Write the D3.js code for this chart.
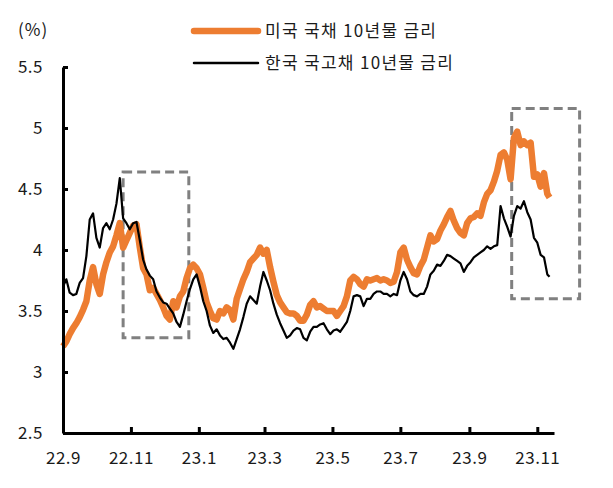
<!DOCTYPE html>
<html>
<head>
<meta charset="utf-8">
<script src="https://cdn.jsdelivr.net/npm/d3@7"></script>
<style>
  body { margin: 0; background: #fff; }
  svg { display: block; font-family: "Noto Sans CJK KR", "Noto Sans", sans-serif; }
</style>
</head>
<body>
<svg id="chart" width="613" height="488"></svg>
<script>
const dates = [
  '2022-09-01','2022-09-04','2022-09-07','2022-09-10','2022-09-13','2022-09-16','2022-09-19','2022-09-22','2022-09-25','2022-09-28',
  '2022-10-01','2022-10-04','2022-10-07','2022-10-10','2022-10-13','2022-10-16','2022-10-19','2022-10-22','2022-10-25','2022-10-28','2022-10-31',
  '2022-11-03','2022-11-06','2022-11-09','2022-11-12','2022-11-15','2022-11-18','2022-11-21','2022-11-24','2022-11-27','2022-11-30',
  '2022-12-03','2022-12-06','2022-12-09','2022-12-12','2022-12-15','2022-12-18','2022-12-21','2022-12-24','2022-12-27','2022-12-30',
  '2023-01-02','2023-01-05','2023-01-08','2023-01-11','2023-01-14','2023-01-17','2023-01-20','2023-01-23','2023-01-26','2023-01-29',
  '2023-02-01','2023-02-04','2023-02-07','2023-02-10','2023-02-13','2023-02-16','2023-02-19','2023-02-22','2023-02-25','2023-02-28',
  '2023-03-03','2023-03-06','2023-03-09','2023-03-12','2023-03-15','2023-03-18','2023-03-21','2023-03-24','2023-03-27','2023-03-30',
  '2023-04-02','2023-04-05','2023-04-08','2023-04-11','2023-04-14','2023-04-17','2023-04-20','2023-04-23','2023-04-26','2023-04-29',
  '2023-05-02','2023-05-05','2023-05-08','2023-05-11','2023-05-14','2023-05-17','2023-05-20','2023-05-23','2023-05-26','2023-05-29',
  '2023-06-01','2023-06-04','2023-06-07','2023-06-10','2023-06-13','2023-06-16','2023-06-19','2023-06-22','2023-06-25','2023-06-28',
  '2023-07-01','2023-07-04','2023-07-07','2023-07-10','2023-07-13','2023-07-16','2023-07-19','2023-07-22','2023-07-25','2023-07-28','2023-07-31',
  '2023-08-03','2023-08-06','2023-08-09','2023-08-12','2023-08-15','2023-08-18','2023-08-21','2023-08-24','2023-08-27','2023-08-30',
  '2023-09-02','2023-09-05','2023-09-08','2023-09-11','2023-09-14','2023-09-17','2023-09-20','2023-09-23','2023-09-26','2023-09-29',
  '2023-10-02','2023-10-05','2023-10-08','2023-10-11','2023-10-14','2023-10-17','2023-10-20','2023-10-23','2023-10-26','2023-10-29',
  '2023-11-01','2023-11-04','2023-11-07','2023-11-10','2023-11-12'
];

// 미국 국채 10년물 금리 (%)
const usYield = [
  3.21,3.25,3.31,3.36,3.40,3.45,3.51,3.58,3.75,3.86,
  3.72,3.64,3.80,3.90,3.98,4.03,4.12,4.22,4.02,4.08,4.14,
  4.20,4.21,4.02,3.85,3.80,3.67,3.69,3.64,3.59,3.53,
  3.46,3.43,3.58,3.53,3.62,3.66,3.77,3.85,3.88,3.85,
  3.80,3.69,3.57,3.50,3.44,3.43,3.50,3.48,3.53,3.51,
  3.43,3.60,3.68,3.76,3.82,3.90,3.93,3.96,4.02,3.97,
  4.00,3.86,3.74,3.63,3.57,3.53,3.49,3.48,3.48,3.46,
  3.42,3.42,3.47,3.55,3.58,3.53,3.54,3.52,3.50,3.50,
  3.50,3.46,3.50,3.54,3.62,3.75,3.78,3.76,3.72,3.70,
  3.76,3.75,3.76,3.77,3.75,3.76,3.75,3.73,3.74,3.82,
  3.98,4.02,3.92,3.86,3.81,3.80,3.87,3.92,4.02,4.12,4.07,
  4.09,4.16,4.21,4.27,4.32,4.24,4.18,4.14,4.12,4.22,
  4.26,4.27,4.30,4.28,4.39,4.46,4.49,4.56,4.65,4.78,
  4.80,4.74,4.58,4.92,4.97,4.86,4.89,4.86,4.88,4.60,
  4.62,4.52,4.63,4.46,4.43
];

// 한국 국고채 10년물 금리 (%)
const krYield = [
  3.70,3.76,3.65,3.63,3.64,3.73,3.77,3.95,4.25,4.30,
  4.10,4.02,4.18,4.22,4.17,4.25,4.38,4.59,4.26,4.22,4.17,
  4.22,4.23,4.08,3.92,3.84,3.79,3.76,3.66,3.61,3.57,
  3.56,3.52,3.48,3.41,3.37,3.47,3.58,3.68,3.76,3.80,
  3.70,3.58,3.50,3.38,3.32,3.35,3.30,3.27,3.28,3.24,
  3.19,3.27,3.35,3.45,3.56,3.62,3.59,3.56,3.70,3.82,
  3.75,3.67,3.56,3.47,3.40,3.34,3.28,3.30,3.34,3.36,
  3.35,3.28,3.26,3.33,3.37,3.37,3.39,3.40,3.35,3.31,
  3.34,3.35,3.33,3.37,3.41,3.50,3.62,3.63,3.62,3.54,
  3.60,3.60,3.64,3.66,3.66,3.64,3.64,3.62,3.64,3.63,
  3.75,3.82,3.76,3.66,3.63,3.62,3.64,3.64,3.70,3.80,3.83,
  3.88,3.87,3.91,3.96,3.95,3.93,3.91,3.89,3.82,3.87,
  3.90,3.94,3.96,3.98,4.00,4.03,4.01,4.03,4.04,4.36,
  4.26,4.19,4.11,4.28,4.36,4.34,4.40,4.31,4.25,4.10,
  4.06,3.96,3.94,3.80,3.78
];

const xTickDates = ['2022-09-01','2022-11-01','2023-01-01','2023-03-01','2023-05-01','2023-07-01','2023-09-01','2023-11-01'];
const xTickLabels = ['22.9','22.11','23.1','23.3','23.5','23.7','23.9','23.11'];
const yTicks = [2.5, 3, 3.5, 4, 4.5, 5, 5.5];

const seriesNames = ['미국 국채 10년물 금리', '한국 국고채 10년물 금리'];

// dashed highlight boxes: [startDate, endDate, low, high]
const highlightBoxes = [
  ['2022-10-25', '2022-12-23', 3.28, 4.64],
  ['2023-10-09', '2023-12-09', 3.60, 5.16]
];

const US_COLOR = '#ed7d31';
const KR_COLOR = '#000000';
const BOX_COLOR = '#808080';
const TEXT_COLOR = '#1a1a1a';
const FONT = '"Noto Sans CJK KR", sans-serif';

const parse = d3.timeParse('%Y-%m-%d');
const svg = d3.select('#chart');

const x = d3.scaleTime()
  .domain([parse('2022-09-01'), parse('2023-11-16')])
  .range([63, 554]);

const y = d3.scaleLinear()
  .domain([2.5, 5.5])
  .range([433, 67]);

const usData = dates.map((d, i) => ({ date: parse(d), value: usYield[i] }));
const krData = dates.map((d, i) => ({ date: parse(d), value: krYield[i] }));

const line = d3.line()
  .x((d) => x(d.date))
  .y((d) => y(d.value));

// highlight boxes
svg.append('g')
  .selectAll('rect')
  .data(highlightBoxes)
  .join('rect')
  .attr('x', (b) => x(parse(b[0])))
  .attr('y', (b) => y(b[3]))
  .attr('width', (b) => x(parse(b[1])) - x(parse(b[0])))
  .attr('height', (b) => y(b[2]) - y(b[3]))
  .attr('fill', 'none')
  .attr('stroke', BOX_COLOR)
  .attr('stroke-width', 3)
  .attr('stroke-dasharray', '9,5');

svg.append('path')
  .datum(usData)
  .attr('d', line)
  .attr('fill', 'none')
  .attr('stroke', US_COLOR)
  .attr('stroke-width', 6.5)
  .attr('stroke-linejoin', 'round');

svg.append('path')
  .datum(krData)
  .attr('d', line)
  .attr('fill', 'none')
  .attr('stroke', KR_COLOR)
  .attr('stroke-width', 2.2)
  .attr('stroke-linejoin', 'round');

// axes
const yAxis = svg.append('g')
  .attr('transform', 'translate(63,0)')
  .call(d3.axisLeft(y)
    .tickValues(yTicks)
    .tickFormat(d3.format('~g'))
    .tickSizeInner(-5)
    .tickSizeOuter(0)
    .tickPadding(20));

const xAxis = svg.append('g')
  .attr('transform', 'translate(0,433)')
  .call(d3.axisBottom(x)
    .tickValues(xTickDates.map(parse))
    .tickFormat((d, i) => xTickLabels[i])
    .tickSizeInner(-6)
    .tickSizeOuter(0)
    .tickPadding(19));

[yAxis, xAxis].forEach((ax) => {
  ax.select('.domain').attr('stroke', '#000').attr('stroke-width', 3);
  ax.selectAll('.tick line').attr('stroke', '#000').attr('stroke-width', 3);
  ax.selectAll('.tick text')
    .attr('fill', TEXT_COLOR)
    .attr('font-size', '17px')
    .attr('letter-spacing', '0.5px')
    .attr('font-family', FONT);
});

svg.append('text')
  .attr('x', 18)
  .attr('y', 36)
  .attr('font-size', '17px')
  .attr('letter-spacing', '1px')
  .attr('fill', TEXT_COLOR)
  .text('(%)');

// legend
const legend = svg.append('g');
const legendRows = [
  { name: seriesNames[0], color: US_COLOR, width: 6.5, y: 31 },
  { name: seriesNames[1], color: KR_COLOR, width: 2.5, y: 63 }
];
legendRows.forEach((row) => {
  legend.append('line')
    .attr('x1', 194)
    .attr('x2', 258)
    .attr('y1', row.y)
    .attr('y2', row.y)
    .attr('stroke', row.color)
    .attr('stroke-width', row.width)
    .attr('stroke-linecap', 'round');
  legend.append('text')
    .attr('x', 265)
    .attr('y', row.y + 6)
    .attr('font-size', '17px')
    .attr('letter-spacing', '1.3px')
    .attr('fill', TEXT_COLOR)
    .text(row.name);
});
</script>
</body>
</html>
